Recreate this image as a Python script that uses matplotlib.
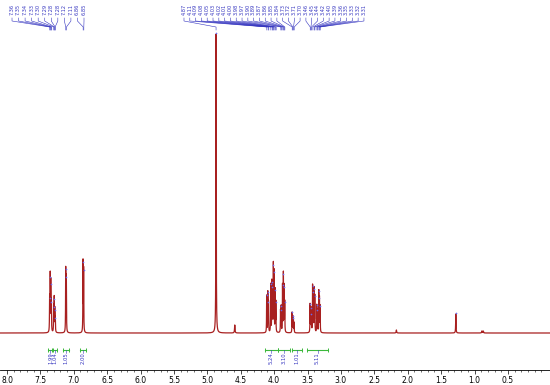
import numpy as np
import matplotlib
matplotlib.use("Agg")
import matplotlib.pyplot as plt

# peak list: position (ppm) and height (arbitrary, baseline = 0)
peak_ppm = [7.362, 7.353, 7.345, 7.336, 7.301, 7.293, 7.285, 7.277,
            7.121, 7.112, 6.862, 6.853,
            4.87, 4.59,
            4.112, 4.095, 4.085, 4.052, 4.035, 4.025, 4.012, 4.001, 3.985, 3.975,
            3.905, 3.895, 3.875, 3.862, 3.852, 3.842,
            3.732, 3.722, 3.712, 3.702,
            3.462, 3.452, 3.442, 3.425, 3.415, 3.402, 3.392, 3.362, 3.352, 3.332, 3.322, 3.312,
            2.17, 1.28, 0.89, 0.87]
peak_int = [34, 55, 48, 30, 25, 33, 22, 14,
            63, 55, 70, 62,
            299, 8,
            37, 40, 30, 48, 50, 45, 67, 60, 42, 30,
            22, 26, 47, 58, 45, 30,
            20, 16, 14, 10,
            28, 24, 18, 46, 40, 43, 36, 27, 22, 41, 34, 26,
            3, 19, 2, 2]
peak_w = [0.0024] * 12 + [0.0028, 0.004] + [0.0022] * 32 + [0.004, 0.003, 0.004, 0.004]

# picked peak labels
left_labels = ["7.36", "7.35", "7.34", "7.33", "7.30", "7.29", "7.28", "7.28",
               "7.12", "7.11", "6.86", "6.85"]
right_labels = ["4.87", "4.11", "4.09", "4.08", "4.05", "4.03", "4.02", "4.01", "4.00",
                "3.98", "3.97", "3.90", "3.89", "3.87", "3.86", "3.85", "3.84",
                "3.73", "3.72", "3.71", "3.70", "3.46", "3.45", "3.44", "3.42",
                "3.40", "3.39", "3.36", "3.35", "3.33", "3.32", "3.31"]

# integrals
int_from = [7.38, 7.31, 7.16, 6.90, 4.13, 3.94, 3.73, 3.51]
int_to = [7.32, 7.25, 7.07, 6.81, 3.95, 3.77, 3.59, 3.19]
int_val = ["1.99", "1.04", "1.05", "2.00", "5.24", "3.10", "1.01", "5.11"]

x = np.linspace(8.15, -0.2, 60000)
y = np.zeros_like(x)
for p, h, w in zip(peak_ppm, peak_int, peak_w):
    y += h / (1 + ((x - p) / w) ** 2)

fig = plt.figure(figsize=(5.5, 3.85), dpi=100)
ax = fig.add_axes([0.0, 15 / 385, 1.0, 370 / 385])
ax.set_xlim(8.105, -0.13)
ax.set_ylim(-37, 333)

ax.plot(x, y, color="#a82020", lw=0.9)

# peak top markers
for p, h in zip(peak_ppm, peak_int):
    if h > 10:
        ax.plot([p], [h + 1.5], marker="o", ms=1.2, color="#6a6af0", mew=0)

# peak labels with connectors
def ppm_at(px):
    return 8.0 - (px - 7) / 66.8

def add_labels(labels, px0, px1):
    n = len(labels)
    for i, lab in enumerate(labels):
        lx = ppm_at(px0 + (px1 - px0) * i / max(n - 1, 1))
        tx = float(lab)
        ax.text(lx, 333 - 4, lab, rotation=90, ha="center", va="top",
                fontsize=3.6, color="#3535c0")
        ax.plot([lx, lx, tx, tx], [333 - 18, 333 - 21, 333 - 27, 333 - 30],
                color="#3535c0", lw=0.4)

add_labels(left_labels, 12, 84)
add_labels(right_labels, 184, 364)

# integrals
for a, b, v in zip(int_from, int_to, int_val):
    ax.plot([a, b], [-17, -17], color="#3cb83c", lw=0.8)
    ax.plot([a, b], [-17, -17], ls="none", marker="|", ms=3, color="#3cb83c", mew=0.7)
    c = (a + b) / 2
    ax.plot([c, c], [-17, -20], color="#3535c0", lw=0.4)
    ax.text(c, -19, v, rotation=90, ha="center", va="top", fontsize=3.8, color="#3535c0")

for s in ["top", "left", "right"]:
    ax.spines[s].set_visible(False)
ax.spines["bottom"].set_linewidth(0.6)
ax.set_yticks([])
ax.set_xticks(np.arange(8.0, 0.0, -0.5))
ax.set_xticklabels([f"{t:.1f}" for t in np.arange(8.0, 0.0, -0.5)])
ax.set_xticks(np.arange(8.0, -0.1, -0.1), minor=True)
ax.tick_params(axis="x", which="major", length=3, width=0.5, labelsize=5.5, pad=1)
ax.tick_params(axis="x", which="minor", length=1.5, width=0.4)

fig.savefig("out.png", dpi=100)
